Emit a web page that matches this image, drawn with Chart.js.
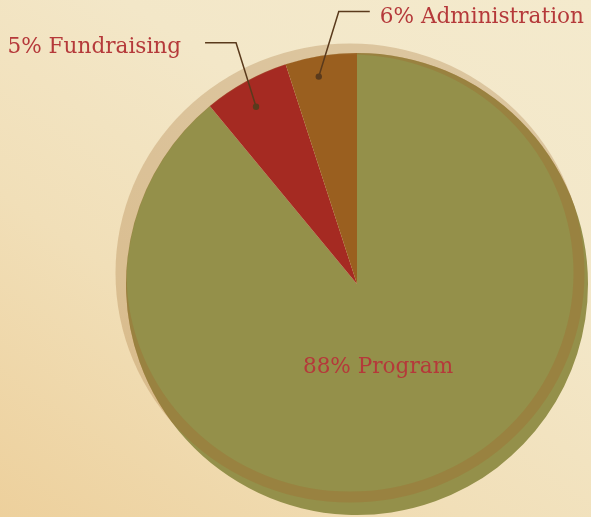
<!DOCTYPE html>
<html>
<head>
<meta charset="utf-8">
<script src="https://cdn.jsdelivr.net/npm/chart.js@4/dist/chart.umd.min.js"></script>
<style>
html,body{margin:0;padding:0;width:591px;height:517px;overflow:hidden;}
body{background:linear-gradient(35deg,#edd09c 0%,#f1dfb8 35%,#f3e7c8 65%,#f4eacd 100%);}
#wrap{position:relative;width:591px;height:517px;}
</style>
</head>
<body>
<div id="wrap"><canvas id="c" width="591" height="517"></canvas></div>
<script>
const categories = ["Program", "Fundraising", "Administration"];
const values = [89, 6, 5];
const labelTexts = ["88% Program", "5% Fundraising", "6% Administration"];
const colors = ["#94904a", "#a52a22", "#9a5f1f"];

const decor = {
  id: 'decor',
  afterDatasetsDraw(chart) {
    const meta = chart.getDatasetMeta(0);
    const {x, y, outerRadius: R} = meta.data[0].getProps(['x','y','outerRadius'], true);
    const ctx = chart.ctx;
    const ex0 = x - 7, ey0 = y - 11, rx = R - 2, ry = R - 7;
    // outside the pie: tan shadow (filled ellipse clipped to outside of pie)
    ctx.save();
    ctx.beginPath();
    ctx.rect(0, 0, chart.width, chart.height);
    ctx.arc(x, y, R - 0.6, 0, Math.PI * 2, true);
    ctx.clip('evenodd');
    ctx.beginPath();
    ctx.ellipse(ex0, ey0, rx + 5.5, ry + 5.5, 0, 0, Math.PI * 2);
    ctx.fillStyle = 'rgba(168,118,60,0.31)';
    ctx.fill();
    ctx.restore();
    // inside the pie: darker band
    ctx.save();
    ctx.beginPath();
    ctx.arc(x, y, R, 0, Math.PI * 2);
    ctx.clip();
    ctx.beginPath();
    ctx.ellipse(ex0, ey0, rx, ry, 0, 0, Math.PI * 2);
    ctx.lineWidth = 11;
    ctx.strokeStyle = 'rgba(160,112,50,0.42)';
    ctx.stroke();
    ctx.restore();

    ctx.save();
    ctx.font = '21.6px "DejaVu Serif"';
    ctx.fillStyle = '#b5393a';
    ctx.textBaseline = 'middle';
    ctx.strokeStyle = '#5a3a1c';
    ctx.lineWidth = 1.5;
    ctx.textAlign = 'center';
    ctx.fillText(labelTexts[0], x + 21, y + 83);
    const setup = [
      {i: 1, t: 0.46, rf: 0.883, dx: -20, dy: -64, hx: -31, align: 'right', gap: -24, ty: 5},
      {i: 2, t: 0.42, rf: 0.913, dx: 20, dy: -65, hx: 31, align: 'left', gap: 10, ty: 6}
    ];
    setup.forEach(s => {
      const a = meta.data[s.i].getProps(['startAngle','endAngle','outerRadius'], true);
      const ang = a.startAngle + (a.endAngle - a.startAngle) * s.t;
      const rr = a.outerRadius * s.rf;
      const px = x + Math.cos(ang) * rr, py = y + Math.sin(ang) * rr;
      const ex = px + s.dx, ey = py + s.dy;
      ctx.beginPath();
      ctx.moveTo(px, py);
      ctx.lineTo(ex, ey);
      ctx.lineTo(ex + s.hx, ey);
      ctx.stroke();
      ctx.fillStyle = '#5a3a1c';
      ctx.beginPath();
      ctx.arc(px, py, 3.2, 0, Math.PI * 2);
      ctx.fill();
      ctx.fillStyle = '#b5393a';
      ctx.textAlign = s.align;
      ctx.fillText(labelTexts[s.i], ex + s.hx + s.gap, ey + s.ty);
    });
    ctx.restore();
  }
};

new Chart(document.getElementById('c'), {
  type: 'pie',
  data: {
    labels: categories,
    datasets: [{
      data: values,
      backgroundColor: colors,
      borderWidth: 0
    }]
  },
  options: {
    responsive: false,
    animation: false,
    layout: {padding: {left: 126, right: 3, top: 53, bottom: 2}},
    plugins: {legend: {display: false}, tooltip: {enabled: false}}
  },
  plugins: [decor]
});
</script>
</body>
</html>
